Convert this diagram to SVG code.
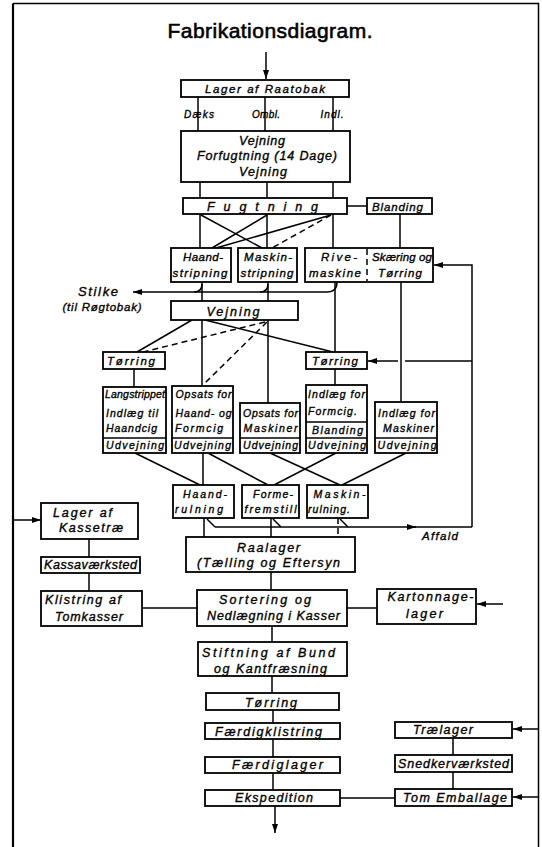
<svg xmlns="http://www.w3.org/2000/svg" width="542" height="847" viewBox="0 0 542 847">
<style>
.t{font-family:"Liberation Sans",Arial,sans-serif;font-style:italic;font-weight:normal;fill:#000;stroke:#000;stroke-width:0.35;text-anchor:middle;font-size:11.5px}
.s{font-size:10.5px}
.m{font-size:12.5px}
.b{fill:#fff;stroke:#000;stroke-width:1.8}
.l{stroke:#000;stroke-width:1.5;fill:none}
.d{stroke-dasharray:6 4}
.fr{stroke:#000;fill:none}
</style>
<defs>
<marker id="ah" viewBox="0 0 9 6" refX="9" refY="3" markerWidth="9" markerHeight="6" markerUnits="userSpaceOnUse" orient="auto"><path d="M0,0 L9,3 L0,6 z" fill="#000"/></marker>
</defs>
<rect width="542" height="847" fill="#fff"/>
<g id="frame">
<path class="fr" stroke-width="2.2" d="M13,850 L13,3.5"/>
<path class="fr" stroke-width="1.5" d="M13,3.5 L538.5,3.5 L538.5,850"/>
</g>
<text id="title" x="270" y="38" class="t" style="font-style:normal;font-size:21px;stroke-width:0.6" textLength="205">Fabrikationsdiagram.</text>
<g id="connectors">
<path class="l" marker-end="url(#ah)" d="M266,52 L266,79"/>
<path class="l" d="M198,97 V131 M265,97 V131 M333,97 V131"/>
<path class="l" d="M200,182 V198 M267,182 V198 M333,182 V198"/>
<path class="l" d="M347,206 H367 M400,214 V248"/>
<path class="l" d="M200,214 V248 M267,214 V248 M333,214 V248"/>
<path class="l" d="M201,215 L262,248 M267,215 L212,248 M331,215 L216,248"/>
<path class="l d" d="M331,215 L272,248"/>
<path class="l" d="M202,282 V301 M268,282 V301"/>
<path class="l" marker-end="url(#ah)" d="M337,282 Q337,292 327,292 L133,292"/>
<path class="l" d="M202,284 Q202,292 194,292 M268,284 Q268,292 260,292"/>
<path class="l" d="M335,282 V352 M401,282 V402"/>
<path class="l" marker-end="url(#ah)" d="M472,527 L472,265 L434,265"/>
<path class="l" d="M472,361 L405,361"/>
<path class="l" marker-end="url(#ah)" d="M398,361 L368,361"/>
<path class="l" d="M192,320 L137,352 M202,320 V386 M268,320 V403 M205,320 L333,352"/>
<path class="l d" d="M265,322 L143,352 M267,322 L203,385"/>
<path class="l" d="M134,369 V387 M335,369 V385"/>
<path class="l" d="M135,453 L200,485 M203,453 V485 M208,453 L268,485 M270,453 L340,485 M336,453 L274,485 M406,453 L342,485"/>
<path class="l" d="M204,518 V537 M271,518 V537"/>
<path class="l" d="M207,519 L215,527 M273,519 L281,527 M340,519 L348,527"/>
<path class="l" marker-end="url(#ah)" d="M215,527 L416,527"/>
<path class="l" d="M414,527 L472,527"/>
<path class="l d" stroke-dasharray="2 2" d="M338,518 V537"/>
<path class="l" d="M271,572 V590"/>
<path class="l" marker-end="url(#ah)" d="M13,520 L41,520"/>
<path class="l" d="M89,539 V557 M89,573 V591"/>
<path class="l" d="M142,608 H197 M347,608 H377"/>
<path class="l" marker-end="url(#ah)" d="M503,604 L477,604"/>
<path class="l" d="M272,626 V642 M272,676 V693 M273,710 V723 M273,739 V757 M273,773 V790"/>
<path class="l" d="M340,798 H395 M453,738 V755 M453,772 V789"/>
<path class="l" marker-end="url(#ah)" d="M539,729 L513,729"/>
<path class="l" marker-end="url(#ah)" d="M539,797 L513,797"/>
<path class="l" marker-end="url(#ah)" d="M275,806 L275,833"/>
</g>
<g id="lager-raatobak"><rect class="b" x="181" y="80" width="168" height="17"/><text class="t" x="265" y="93" textLength="120">Lager af Raatobak</text></g>
<g id="labels-top">
<text class="t" style="font-size:10px" x="199" y="118" textLength="30">Dæks</text>
<text class="t" style="font-size:10px" x="266" y="118" textLength="28">Ombl.</text>
<text class="t" style="font-size:10px" x="332" y="118" textLength="23">Indl.</text>
</g>
<g id="vejning-forfugtning"><rect class="b" x="181" y="131" width="169" height="51"/>
<text class="t m" x="262" y="145" textLength="46">Vejning</text>
<text class="t m" x="267" y="160" textLength="140">Forfugtning (14 Dage)</text>
<text class="t m" x="263" y="176" textLength="48">Vejning</text></g>
<g id="fugtning"><rect class="b" x="183" y="198" width="164" height="16"/><text class="t m" x="262.5" y="211" textLength="111">Fugtning</text></g>
<g id="blanding"><rect class="b" x="367" y="198" width="65" height="16"/><text class="t" x="397.5" y="211" textLength="51">Blanding</text></g>
<g id="haandstripning"><rect class="b" x="171" y="248" width="60" height="34"/><text class="t" x="203" y="261" textLength="40">Haand-</text><text class="t" x="200" y="277" textLength="55">stripning</text></g>
<g id="maskinstripning"><rect class="b" x="238" y="248" width="59" height="34"/><text class="t" x="268" y="261" textLength="48">Maskin-</text><text class="t" x="267" y="277" textLength="53">stripning</text></g>
<g id="rivemaskine-skaering"><rect class="b" x="305" y="248" width="128" height="34"/><path class="l d" stroke-dasharray="3 2" d="M367,249 V281"/>
<text class="t" x="339" y="261" textLength="36">Rive-</text><text class="t" x="335" y="277" textLength="52">maskine</text>
<text class="t" x="402" y="261" textLength="60">Skæring og</text><text class="t" x="400" y="277" textLength="44">Tørring</text></g>
<g id="stilke"><text class="t" style="font-size:13px" x="98" y="296" textLength="40">Stilke</text><text class="t" x="102" y="311" textLength="79">(til Røgtobak)</text></g>
<g id="vejning2"><rect class="b" x="171" y="301" width="127" height="19"/><text class="t m" x="233" y="316" textLength="53">Vejning</text></g>
<g id="torring-l"><rect class="b" x="103" y="352" width="62" height="17"/><text class="t" x="131" y="365" textLength="48">Tørring</text></g>
<g id="torring-r"><rect class="b" x="306" y="352" width="61" height="17"/><text class="t" x="335" y="365" textLength="46">Tørring</text></g>
<g id="langstrippet"><rect class="b" x="103" y="387" width="63" height="66"/><path class="l" d="M103,438 H166"/>
<text class="t s" x="135" y="398" textLength="60">Langstrippet</text><text class="t s" x="132" y="417" textLength="52">Indlæg til</text><text class="t s" x="131.5" y="432" textLength="51">Haandcig</text><text class="t s" x="135" y="449" textLength="58">Udvejning</text></g>
<g id="opsats-haand"><rect class="b" x="172" y="386" width="61" height="67"/><path class="l" d="M172,438 H233"/>
<text class="t s" x="203.5" y="398" textLength="56">Opsats for</text><text class="t s" x="203.5" y="417" textLength="56">Haand- og</text><text class="t s" x="199" y="432" textLength="48">Formcig</text><text class="t s" x="202.5" y="449" textLength="57">Udvejning</text></g>
<g id="opsats-maskiner"><rect class="b" x="240" y="403" width="60" height="50"/><path class="l" d="M240,438 H300"/>
<text class="t s" x="270.5" y="417" textLength="55">Opsats for</text><text class="t s" x="270.5" y="432" textLength="54">Maskiner</text><text class="t s" x="270.5" y="449" textLength="55">Udvejning</text></g>
<g id="indlaeg-formcig"><rect class="b" x="306" y="385" width="61" height="68"/><path class="l" d="M306,422 H367 M306,438 H367"/>
<text class="t s" x="336.5" y="398" textLength="57">Indlæg for</text><text class="t s" x="332.5" y="415" textLength="49">Formcig.</text><text class="t s" x="337.5" y="434" textLength="51">Blanding</text><text class="t s" x="337" y="449" textLength="58">Udvejning</text></g>
<g id="indlaeg-maskiner"><rect class="b" x="375" y="402" width="62" height="51"/><path class="l" d="M375,438 H437"/>
<text class="t s" x="406.5" y="417" textLength="57">Indlæg for</text><text class="t s" x="408.5" y="432" textLength="51">Maskiner</text><text class="t s" x="407" y="449" textLength="59">Udvejning</text></g>
<g id="haandrulning"><rect class="b" x="173" y="485" width="61" height="33"/><text class="t s" x="205" y="498" textLength="44">Haand-</text><text class="t s" x="199" y="513" textLength="48">rulning</text></g>
<g id="formefremstill"><rect class="b" x="242" y="485" width="57" height="33"/><text class="t s" x="273" y="498" textLength="40">Forme-</text><text class="t s" x="270.5" y="513" textLength="52">fremstill</text></g>
<g id="maskinrulning"><rect class="b" x="307" y="485" width="61" height="33"/><text class="t s" x="339.5" y="498" textLength="52">Maskin-</text><text class="t s" x="329" y="513" textLength="42">rulning.</text></g>
<g id="affald"><text class="t" x="440" y="540" textLength="36">Affald</text></g>
<g id="raalager"><rect class="b" x="186" y="537" width="169" height="35"/><text class="t m" x="268.5" y="552" textLength="63">Raalager</text><text class="t m" x="268.5" y="567" textLength="143">(Tælling og Eftersyn</text></g>
<g id="lager-kassetrae"><rect class="b" x="41" y="503" width="97" height="36"/><text class="t m" x="82.5" y="517" textLength="59">Lager af</text><text class="t m" x="91" y="532" textLength="64">Kassetræ</text></g>
<g id="kassavaerksted"><rect class="b" x="41" y="557" width="99" height="16"/><text class="t m" x="90.5" y="569" textLength="93">Kassaværksted</text></g>
<g id="klistring"><rect class="b" x="41" y="591" width="101" height="35"/><text class="t m" x="83" y="604" textLength="76">Klistring af</text><text class="t m" x="89" y="621" textLength="68">Tomkasser</text></g>
<g id="sortering"><rect class="b" x="197" y="590" width="150" height="36"/><text class="t m" x="265" y="604" textLength="92">Sortering og</text><text class="t m" x="273.5" y="620" textLength="133">Nedlægning i Kasser</text></g>
<g id="kartonnage"><rect class="b" x="377" y="589" width="99" height="35"/><text class="t m" x="430.5" y="601" textLength="86">Kartonnage-</text><text class="t m" x="424.5" y="618" textLength="37">lager</text></g>
<g id="stiftning"><rect class="b" x="198" y="642" width="149" height="34"/><text class="t m" x="268.5" y="657" textLength="133">Stiftning af Bund</text><text class="t m" x="270.5" y="673" textLength="113">og Kantfræsning</text></g>
<g id="torring3"><rect class="b" x="206" y="693" width="133" height="17"/><text class="t m" x="271" y="707" textLength="52">Tørring</text></g>
<g id="faerdigklistring"><rect class="b" x="205" y="723" width="135" height="16"/><text class="t m" x="268.5" y="736" textLength="107">Færdigklistring</text></g>
<g id="faerdiglager"><rect class="b" x="205" y="757" width="135" height="16"/><text class="t m" x="277.5" y="769" textLength="91">Færdiglager</text></g>
<g id="ekspedition"><rect class="b" x="205" y="790" width="135" height="16"/><text class="t m" x="274" y="802" textLength="78">Ekspedition</text></g>
<g id="traelager"><rect class="b" x="395" y="722" width="117" height="16"/><text class="t m" x="443" y="734" textLength="60">Trælager</text></g>
<g id="snedker"><rect class="b" x="395" y="755" width="117" height="17"/><text class="t m" x="453.5" y="768" textLength="111">Snedkerværksted</text></g>
<g id="tom-emballage"><rect class="b" x="395" y="789" width="117" height="17"/><text class="t m" x="455" y="802" textLength="104">Tom Emballage</text></g>
</svg>
